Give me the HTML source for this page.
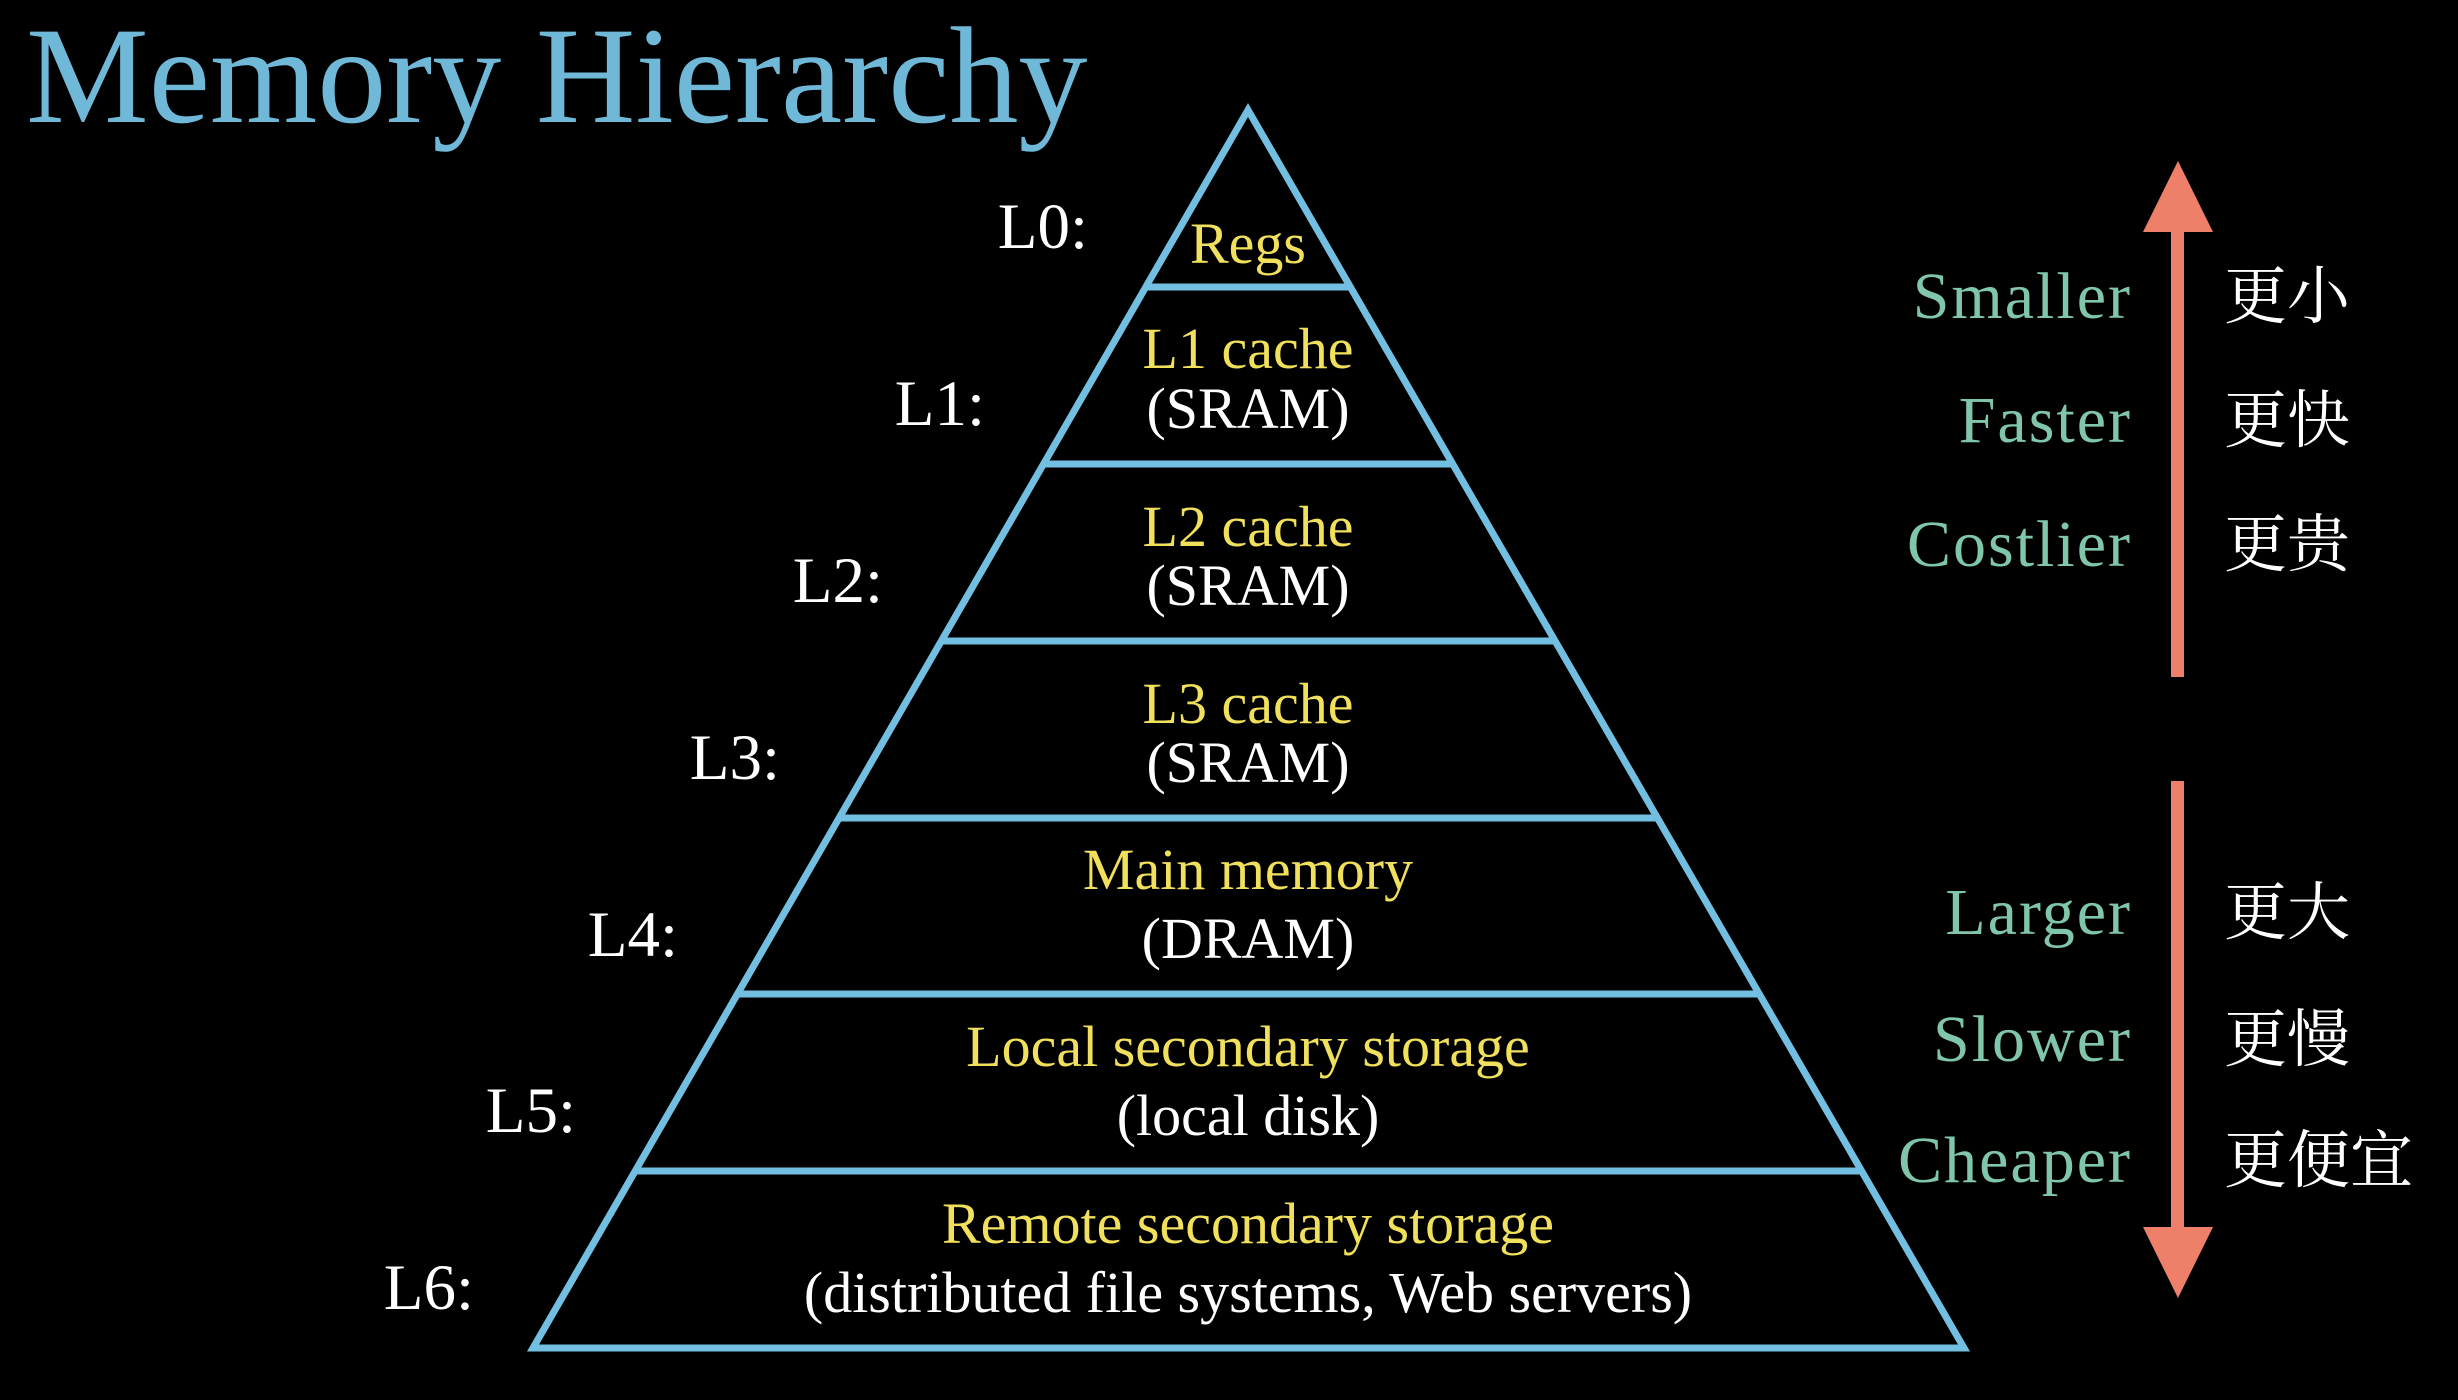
<!DOCTYPE html>
<html><head><meta charset="utf-8"><style>
html,body{margin:0;padding:0;background:#000;}
svg{display:block;}
text{font-family:"Liberation Serif","Noto Serif CJK SC",serif;}
</style></head><body>
<svg width="2458" height="1400" viewBox="0 0 2458 1400" xmlns="http://www.w3.org/2000/svg">
<rect width="2458" height="1400" fill="#000"/>
<text x="26" y="122" font-size="138" fill="#6fb8d8">Memory Hierarchy</text>
<g stroke="#72bfe2" stroke-width="7" fill="none" stroke-linejoin="miter">
<polygon points="1248,110 533,1348 1964,1348"/>
<line x1="1146" y1="287" x2="1350" y2="287"/>
<line x1="1044" y1="464" x2="1452" y2="464"/>
<line x1="942" y1="641" x2="1554" y2="641"/>
<line x1="839" y1="818" x2="1657" y2="818"/>
<line x1="738" y1="994" x2="1758" y2="994"/>
<line x1="636" y1="1171" x2="1860" y2="1171"/>
</g>
<g font-size="65" fill="#fff" text-anchor="end">
<text x="1088" y="248">L0:</text>
<text x="985" y="425">L1:</text>
<text x="883" y="602">L2:</text>
<text x="780" y="779">L3:</text>
<text x="678" y="956">L4:</text>
<text x="576" y="1132">L5:</text>
<text x="474" y="1309">L6:</text>
</g>
<g font-size="58" text-anchor="middle">
<text x="1248" y="263" fill="#f0e05c">Regs</text>
<text x="1248" y="368" fill="#f0e05c">L1 cache</text>
<text x="1248" y="428" fill="#fff">(SRAM)</text>
<text x="1248" y="546" fill="#f0e05c">L2 cache</text>
<text x="1248" y="605" fill="#fff">(SRAM)</text>
<text x="1248" y="723" fill="#f0e05c">L3 cache</text>
<text x="1248" y="782" fill="#fff">(SRAM)</text>
<text x="1248" y="889" fill="#f0e05c">Main memory</text>
<text x="1248" y="958" fill="#fff">(DRAM)</text>
<text x="1248" y="1066" fill="#f0e05c">Local secondary storage</text>
<text x="1248" y="1135" fill="#fff">(local disk)</text>
<text x="1248" y="1243" fill="#f0e05c">Remote secondary storage</text>
<text x="1248" y="1312" fill="#fff">(distributed file systems, Web servers)</text>
</g>
<g fill="#ee806a">
<rect x="2171" y="225" width="13" height="452"/>
<polygon points="2178,161 2143,232 2213,232"/>
<rect x="2171" y="781" width="13" height="452"/>
<polygon points="2178,1298 2143,1227 2213,1227"/>
</g>
<g font-size="66" fill="#80c6aa" text-anchor="end" letter-spacing="2">
<text x="2132" y="318">Smaller</text>
<text x="2132" y="442">Faster</text>
<text x="2132" y="566">Costlier</text>
<text x="2132" y="934">Larger</text>
<text x="2132" y="1061">Slower</text>
<text x="2132" y="1182">Cheaper</text>
</g>
<g font-size="63" fill="#fff" style="font-family:'Noto Sans CJK SC',sans-serif">
<text x="2224" y="318">更小</text>
<text x="2224" y="442">更快</text>
<text x="2224" y="566">更贵</text>
<text x="2224" y="934">更大</text>
<text x="2224" y="1061">更慢</text>
<text x="2224" y="1182">更便宜</text>
</g>
</svg>
</body></html>
